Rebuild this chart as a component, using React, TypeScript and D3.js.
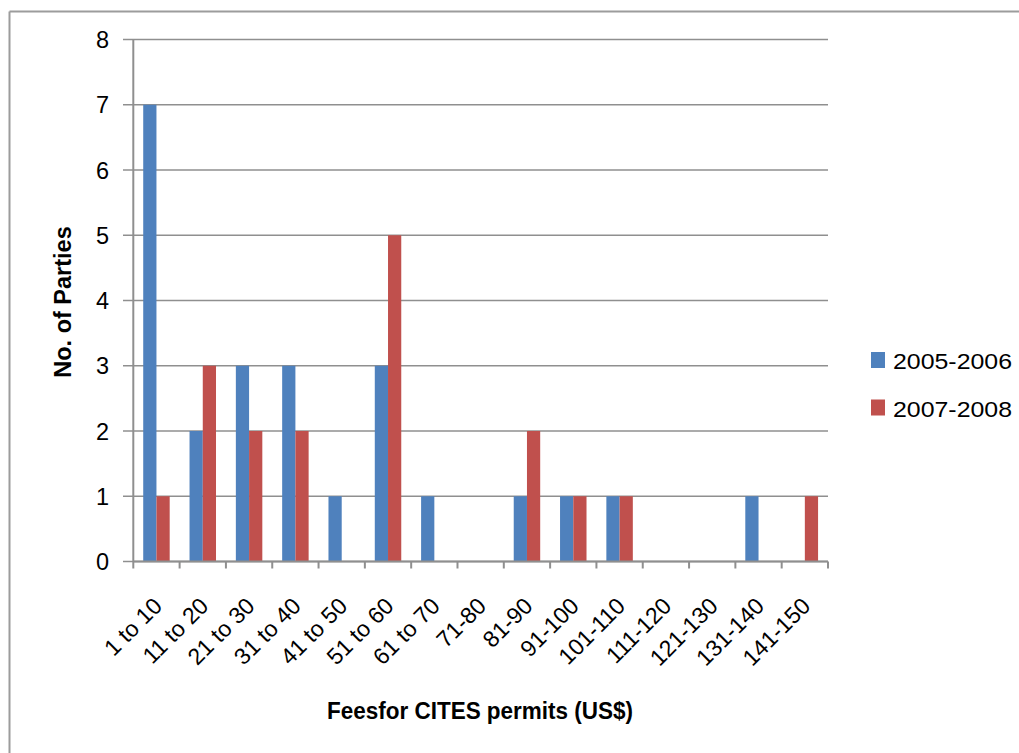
import React from "react";
import * as d3 from "d3";

const categories = ["1 to 10", "11 to 20", "21 to 30", "31 to 40", "41 to 50", "51 to 60", "61 to 70", "71-80", "81-90", "91-100", "101-110", "111-120", "121-130", "131-140", "141-150"];
const seriesNames = ["2005-2006", "2007-2008"];
const values2005 = [7, 2, 3, 3, 1, 3, 1, 0, 1, 1, 1, 0, 0, 1, 0];
const values2007 = [1, 3, 2, 2, 0, 5, 0, 0, 2, 1, 1, 0, 0, 0, 1];
const yTicks = [0, 1, 2, 3, 4, 5, 6, 7, 8];
const colors = ["#4F81BD", "#C0504D"];
const yTitle = "No. of Parties";
const xTitle = "Feesfor CITES permits (US$)";

const W = 1019, H = 753;
const left = 133.3, right = 828, top = 39.5, bottom = 561.5;
const FONT = "'Liberation Sans', Arial, sans-serif";
const GRID = "#8f8f8f";

export default function App() {
  const x = d3.scaleBand<string>().domain(categories).range([left, right]).padding(0);
  const xi = d3.scaleBand<string>().domain(seriesNames).range([0, x.bandwidth()]).paddingInner(0).paddingOuter(0.75);
  const y = d3.scaleLinear().domain([0, 8]).range([bottom, top]);
  const series = [values2005, values2007];

  const tickXs = categories.map((c) => x(c)!).concat([right]);

  return (
    <svg width={W} height={H} style={{ position: "absolute", left: 0, top: 0, background: "#fff" }} fontFamily={FONT}>
      <rect x={0} y={0} width={W} height={H} fill="#fff" />
      {/* frame */}
      <line x1={9.5} x2={W} y1={11.5} y2={11.5} stroke="#9c9c9c" strokeWidth={2} />
      <line x1={9.5} x2={9.5} y1={11.5} y2={H} stroke="#9c9c9c" strokeWidth={2} />

      {/* gridlines */}
      {yTicks.map((t) => (
        <line key={"g" + t} x1={123} x2={right} y1={y(t)} y2={y(t)} stroke={GRID} strokeWidth={1.6} />
      ))}
      {/* y axis */}
      <line x1={left} x2={left} y1={top} y2={bottom} stroke={GRID} strokeWidth={2} />
      {yTicks.map((t) => (
        <text key={"yl" + t} x={109} y={y(t) + 8.5} textAnchor="end" fontSize={23.5} fill="#000">
          {t}
        </text>
      ))}

      {/* bars */}
      {series.map((vals, si) =>
        vals.map((v, i) => (
          <rect
            key={"b" + si + "-" + i}
            x={x(categories[i])! + xi(seriesNames[si])!}
            width={xi.bandwidth()}
            y={y(v)}
            height={bottom - y(v)}
            fill={colors[si]}
          />
        ))
      )}

      {/* x axis */}
      <line x1={left} x2={right} y1={bottom} y2={bottom} stroke={GRID} strokeWidth={2} />
      {tickXs.map((tx, i) => (
        <line key={"xt" + i} x1={tx} x2={tx} y1={bottom} y2={bottom + 7} stroke={GRID} strokeWidth={2} />
      ))}
      {categories.map((c) => (
        <text
          key={"xl" + c}
          transform={`translate(${x(c)! + x.bandwidth() / 2 + 7},${bottom + 46}) rotate(-45)`}
          textAnchor="end"
          fontSize={23}
          fill="#000"
        >
          {c}
        </text>
      ))}

      {/* axis titles */}
      <text transform={`translate(71,302) rotate(-90)`} textAnchor="middle" fontSize={23.5} fontWeight="bold" fill="#000">
        {yTitle}
      </text>
      <text x={480} y={719} textAnchor="middle" fontSize={23} fontWeight="bold" fill="#000" textLength={306} lengthAdjust="spacingAndGlyphs">
        {xTitle}
      </text>

      {/* legend */}
      {seriesNames.map((s, i) => (
        <g key={"lg" + s}>
          <rect x={871} y={352 + i * 47.5} width={14} height={16} fill={colors[i]} />
          <text x={893} y={369.3 + i * 47.5} fontSize={21.5} fill="#000" textLength={119} lengthAdjust="spacingAndGlyphs">
            {s}
          </text>
        </g>
      ))}
    </svg>
  );
}
